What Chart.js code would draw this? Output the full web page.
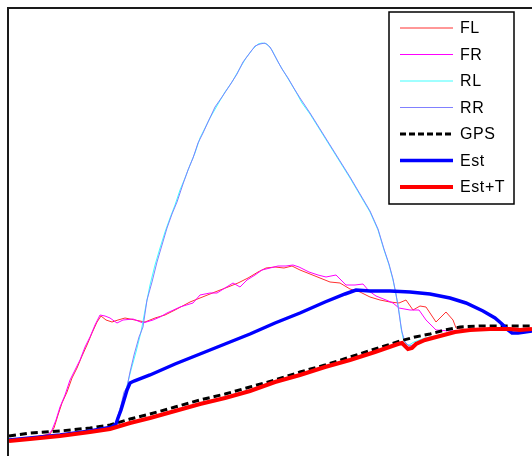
<!DOCTYPE html>
<html>
<head>
<meta charset="utf-8">
<script src="https://cdn.jsdelivr.net/npm/chart.js@4/dist/chart.umd.min.js"></script>
<style>
  html, body { margin: 0; padding: 0; background: #fff; }
  #wrap { width: 532px; height: 456px; position: relative; }
</style>
</head>
<body>
<div id="wrap"><canvas id="speedChart"></canvas></div>
<script>
// time axis (s) and speed values
const flT = [0.1,2.2,4.2,4.6,5.0,5.4,5.9,6.4,6.9,7.4,7.9,8.4,8.9,9.3,9.8,10.4,11.0,11.7,12.7,13.7,14.7,15.7,16.7,18.2,19.7,20.7,22.0,23.0,24.0,25.0,25.8,26.7,27.6,28.4,29.2,30.2,31.2,32.2,33.2,34.2,35.2,36.2,37.2,38.2,39.1,39.8,40.5,41.2,41.8,42.8,43.8,44.5,44.8,46.2,49.2,52.4];
const flV = [1.6,1.8,2.2,2.8,4.1,5.3,6.4,7.8,8.8,10.0,11.1,12.3,13.4,14.0,13.6,13.4,13.6,13.8,13.6,13.4,13.8,14.1,14.6,15.4,16.0,16.4,16.9,17.3,17.8,18.4,18.8,18.9,18.8,19.0,18.6,18.2,17.8,17.4,17.3,16.7,16.4,15.9,15.6,15.4,15.3,15.6,14.6,15.0,14.9,13.4,14.4,13.6,12.8,12.6,12.7,12.7];

const frT = [0.1,2.2,4.0,4.4,4.8,5.2,5.7,6.2,6.7,7.2,7.7,8.2,8.7,9.2,9.7,10.2,10.9,11.5,12.5,13.5,14.5,15.2,15.9,17.2,18.5,19.2,20.2,20.9,21.7,22.5,23.2,23.9,24.7,25.4,26.2,27.0,27.8,28.5,29.1,29.7,30.1,31.0,31.8,32.8,33.8,34.7,35.5,36.1,36.8,37.8,38.5,39.1,40.2,41.1,41.8,42.8,44.2,46.2,49.2,52.4];
const frV = [1.6,1.8,2.1,2.6,3.6,4.9,6.1,7.6,8.6,9.6,10.9,11.9,13.1,14.1,14.0,13.8,13.3,13.6,13.7,13.3,13.6,13.9,14.3,14.9,15.3,16.1,16.3,16.3,16.8,17.3,16.9,17.6,18.1,18.6,18.8,19.0,19.0,19.1,18.9,18.6,18.4,18.1,17.9,18.1,17.1,17.1,17.2,16.5,16.0,15.6,15.3,14.8,14.6,14.6,13.6,12.6,12.5,12.6,12.7,12.7];

const rlT = [0.1,5.2,10.2,10.8,11.2,11.7,12.0,12.3,12.8,13.3,13.8,14.2,14.7,15.2,15.7,16.2,16.7,17.2,17.7,18.2,18.7,19.2,19.7,20.2,21.0,21.7,22.4,23.2,23.8,24.4,25.0,25.4,25.9,26.4,27.0,27.6,28.2,28.8,29.4,30.2,31.2,32.2,33.2,34.2,35.2,36.2,37.0,37.6,38.1,38.5,38.8,39.0,39.2,39.3,39.5,39.8,40.1,40.6,41.7,43.2,45.2,47.2,52.4];
const rlV = [1.6,2.1,2.8,3.2,4.6,6.3,7.4,8.6,10.4,12.4,15.1,17.1,19.1,20.8,22.4,23.8,25.1,26.6,27.8,29.1,30.3,31.8,32.8,33.8,35.2,36.4,37.4,38.8,39.8,40.6,41.2,41.3,41.2,40.6,39.4,38.4,37.4,36.4,35.3,34.2,32.6,31.0,29.4,27.8,26.1,24.4,22.6,20.6,19.1,17.6,16.1,15.1,13.8,12.8,11.8,11.2,11.1,11.4,11.8,12.1,12.6,12.7,12.7];

const rrT = [0.1,5.2,10.2,10.7,10.9,11.3,11.6,11.9,12.2,12.6,13.1,13.5,13.9,14.4,14.9,15.4,15.9,16.4,16.9,17.5,18.0,18.5,19.0,19.5,20.0,20.7,21.4,22.2,22.9,23.5,24.1,24.7,25.2,25.7,26.2,26.8,27.4,28.0,28.7,29.2,30.2,31.2,32.2,33.2,34.2,35.2,36.2,37.0,37.6,38.1,38.5,38.8,39.0,39.2,39.4,39.7,40.1,40.8,41.7,43.2,45.2,47.2,52.4];
const rrV = [1.6,2.1,2.8,3.2,3.7,5.1,6.4,6.9,8.4,10.1,11.9,12.9,15.6,17.4,19.4,21.1,22.8,24.2,25.4,27.2,28.6,29.8,31.3,32.3,33.4,34.9,35.9,37.1,38.2,39.4,40.2,41.0,41.2,41.3,40.9,39.8,38.7,37.8,36.6,35.8,34.3,32.7,31.1,29.5,27.9,26.2,24.5,22.7,20.7,19.2,17.7,16.2,15.0,13.6,12.4,11.4,11.0,11.2,11.6,11.9,12.5,12.7,12.7];

const gpsT = [0.1,2.2,5.2,8.2,10.2,12.2,14.2,16.7,19.2,21.7,24.2,26.7,29.2,31.7,34.2,36.7,39.2,40.7,42.2,43.7,45.2,47.2,49.2,52.4];
const gpsV = [2.0,2.3,2.5,2.8,3.1,3.7,4.2,4.9,5.6,6.2,6.9,7.6,8.4,9.1,9.9,10.7,11.5,11.9,12.2,12.6,12.9,13.0,13.0,13.0];

const estT = [0.1,2.2,5.2,8.2,10.4,10.8,11.0,11.3,11.6,11.9,12.2,12.6,14.2,16.7,19.2,21.7,24.2,26.7,29.2,31.7,33.7,34.8,36.2,38.2,40.2,42.2,44.2,45.8,47.5,48.7,49.4,50.0,50.4,51.0,51.7,52.4];
const estV = [1.6,1.8,2.1,2.5,2.9,3.2,3.8,4.6,5.6,6.6,7.3,7.5,8.1,9.2,10.2,11.2,12.2,13.3,14.3,15.4,16.2,16.6,16.5,16.5,16.4,16.2,15.8,15.3,14.5,13.8,13.2,12.6,12.3,12.3,12.4,12.5];

const estTqT = [0.1,2.2,5.2,8.2,10.2,12.2,14.2,16.7,19.2,21.7,24.2,26.7,29.2,31.7,34.2,36.7,39.0,39.4,39.7,40.0,40.4,40.8,41.7,43.2,44.7,46.2,48.2,50.2,51.2,52.4];
const estTqV = [1.5,1.7,2.0,2.4,2.7,3.3,3.8,4.5,5.2,5.8,6.5,7.4,8.1,8.9,9.6,10.4,11.2,11.3,11.0,10.7,10.8,11.2,11.6,12.0,12.4,12.6,12.7,12.7,12.6,12.7];

const seriesNames = ['FL', 'FR', 'RL', 'RR', 'GPS', 'Est', 'Est+T'];

function pts(t, v) {
    return t.map((x, i) => ({ x: x, y: v[i] }));
}

const styles = [
    { color: '#ff3030', width: 1 },
    { color: '#ff00ff', width: 1 },
    { color: '#40ffff', width: 1 },
    { color: '#8080ff', width: 1 },
    { color: '#000000', width: 3, dash: [7, 4] },
    { color: '#0000ff', width: 3.5 },
    { color: '#ff0000', width: 4 }
];
const seriesData = [pts(flT, flV), pts(frT, frV), pts(rlT, rlV), pts(rrT, rrV),
    pts(gpsT, gpsV), pts(estT, estV), pts(estTqT, estTqV)];

const datasets = seriesNames.map((name, i) => ({
    label: name,
    data: seriesData[i],
    borderColor: styles[i].color,
    borderWidth: styles[i].width,
    borderDash: styles[i].dash || [],
    pointRadius: 0,
    tension: 0,
    fill: false,
    order: seriesNames.length - i
}));

// frame on top and left edge of the plot area
const framePlugin = {
    id: 'frame',
    afterDatasetsDraw(chart) {
        const { ctx, chartArea } = chart;
        ctx.save();
        ctx.strokeStyle = '#1a1a1a';
        ctx.lineWidth = 2;
        ctx.beginPath();
        ctx.moveTo(chartArea.left, chartArea.bottom);
        ctx.lineTo(chartArea.left, chartArea.top);
        ctx.lineTo(chartArea.right, chartArea.top);
        ctx.stroke();
        ctx.restore();
    }
};

// boxed legend inside the plot, top right
const boxLegend = {
    id: 'boxLegend',
    afterDraw(chart) {
        const ctx = chart.ctx;
        const x0 = 389, y0 = 12, w = 125, h = 192;
        ctx.save();
        ctx.fillStyle = '#fff';
        ctx.fillRect(x0, y0, w, h);
        ctx.strokeStyle = '#000';
        ctx.lineWidth = 1.5;
        ctx.strokeRect(x0, y0, w, h);
        ctx.font = '16px "Liberation Sans", Arial, sans-serif';
        ctx.letterSpacing = '0.6px';
        ctx.textBaseline = 'middle';
        chart.data.datasets.forEach((ds, i) => {
            const y = y0 + 16 + i * 26.5;
            ctx.strokeStyle = ds.borderColor;
            ctx.lineWidth = ds.borderWidth;
            ctx.setLineDash(ds.borderDash.length ? [6, 3] : []);
            ctx.beginPath();
            ctx.moveTo(400, y);
            ctx.lineTo(453, y);
            ctx.stroke();
            ctx.setLineDash([]);
            ctx.fillStyle = '#000';
            ctx.fillText(ds.label, 460, y + 1);
        });
        ctx.restore();
    }
};

document.addEventListener('DOMContentLoaded', () => {
    const ctx = document.getElementById('speedChart').getContext('2d');
    new Chart(ctx, {
        type: 'line',
        data: { datasets: datasets },
        options: {
            responsive: true,
            maintainAspectRatio: false,
            animation: false,
            layout: { padding: { left: 8, top: 8, right: 0, bottom: 0 } },
            plugins: {
                legend: { display: false },
                tooltip: { enabled: false }
            },
            scales: {
                x: { type: 'linear', min: 0, max: 52.4, display: false },
                y: { type: 'linear', min: 0, max: 44.8, display: false }
            }
        },
        plugins: [framePlugin, boxLegend]
    });
});
</script>
</body>
</html>
